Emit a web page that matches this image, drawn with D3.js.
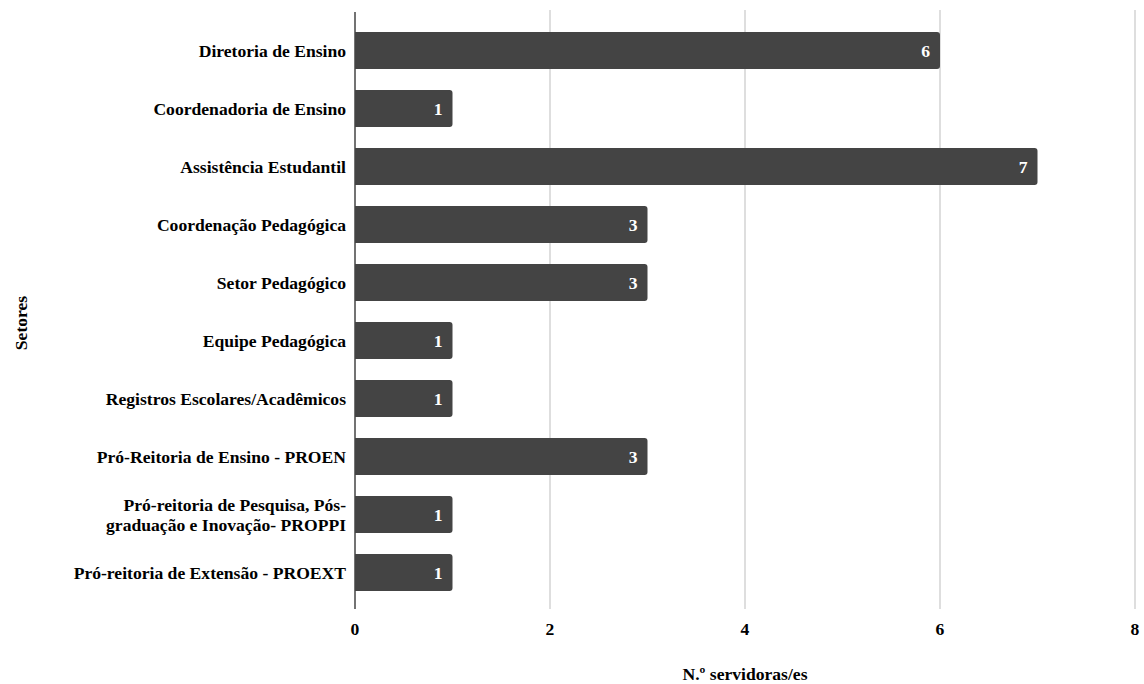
<!DOCTYPE html>
<html>
<head>
<meta charset="utf-8">
<script src="https://cdn.jsdelivr.net/npm/d3@7"></script>
<style>
  html, body { margin: 0; padding: 0; background: #fff; }
</style>
</head>
<body>
<svg id="chart" width="1144" height="684"></svg>
<script>
// Sectors (each entry is a list of label lines) and number of staff per sector
const categories = [
  ["Diretoria de Ensino"],
  ["Coordenadoria de Ensino"],
  ["Assistência Estudantil"],
  ["Coordenação Pedagógica"],
  ["Setor Pedagógico"],
  ["Equipe Pedagógica"],
  ["Registros Escolares/Acadêmicos"],
  ["Pró-Reitoria de Ensino - PROEN"],
  ["Pró-reitoria de Pesquisa, Pós-", "graduação e Inovação- PROPPI"],
  ["Pró-reitoria de Extensão - PROEXT"]
];
const values = [6, 1, 7, 3, 3, 1, 1, 3, 1, 1];
const xTicks = [0, 2, 4, 6, 8];
const xTitle = "N.º servidoras/es";
const yTitle = "Setores";

const FONT = "'Liberation Serif'";
const FS = 17.6;

// apply the serif bold face to a text selection
function serif(sel, size) {
  return sel.attr("font-family", FONT).attr("font-weight", "bold").attr("font-size", size);
}

const svg = d3.select("#chart");

const plotLeft = 355, plotRight = 1135, plotTop = 21.5, plotBottom = 601.5;

const x = d3.scaleLinear().domain([0, 8]).range([plotLeft, plotRight]);
const y = d3.scaleBand().domain(d3.range(categories.length)).range([plotTop, plotBottom]).paddingInner(0.36).paddingOuter(0.18);

// vertical gridlines
svg.append("g").selectAll("line").data(xTicks.filter(d => d > 0)).join("line")
  .attr("x1", d => x(d)).attr("x2", d => x(d))
  .attr("y1", 10).attr("y2", 609)
  .attr("stroke", "#cccccc").attr("stroke-width", 1.3);

// bars with rounded right end
const r = 3;
svg.append("g").selectAll("path").data(values).join("path")
  .attr("fill", "#444444")
  .attr("d", (d, i) => {
    const x0 = x(0), x1 = x(d), y0 = y(i), h = y.bandwidth();
    return `M${x0},${y0} H${x1 - r} Q${x1},${y0} ${x1},${y0 + r} V${y0 + h - r} Q${x1},${y0 + h} ${x1 - r},${y0 + h} H${x0} Z`;
  });

// value labels inside bar ends
svg.append("g").selectAll("text").data(values).join("text")
  .call(serif, FS)
  .attr("x", d => x(d) - 10)
  .attr("y", (d, i) => y(i) + y.bandwidth() / 2 + 6)
  .attr("text-anchor", "end")
  .attr("fill", "#ffffff")
  .text(d => d);

// baseline axis
svg.append("line")
  .attr("x1", x(0)).attr("x2", x(0)).attr("y1", 12).attr("y2", 609)
  .attr("stroke", "#444444").attr("stroke-width", 1.5);

// category labels
const catG = svg.append("g").selectAll("text").data(categories).join("text")
  .call(serif, FS)
  .attr("text-anchor", "end")
  .attr("fill", "#000")
  .attr("x", x(0) - 9)
  .attr("y", (d, i) => y(i) + y.bandwidth() / 2);
catG.each(function(lines) {
  const t = d3.select(this);
  const lh = 20;
  const start = -(lines.length - 1) * lh / 2;
  lines.forEach((ln, k) => {
    t.append("tspan").attr("x", x(0) - 9).attr("dy", k === 0 ? (start + 6) + "px" : lh + "px").text(ln);
  });
});

// x tick labels
svg.append("g").selectAll("text").data(xTicks).join("text")
  .call(serif, FS)
  .attr("x", d => x(d)).attr("y", 635)
  .attr("text-anchor", "middle")
  .attr("fill", "#000")
  .text(d => d);

// axis titles
svg.append("text").call(serif, FS)
  .attr("x", x(4)).attr("y", 680).attr("text-anchor", "middle")
  .attr("fill", "#000").text(xTitle);
svg.append("text").call(serif, FS)
  .attr("transform", "translate(27,323) rotate(-90)")
  .attr("text-anchor", "middle").attr("fill", "#000").text(yTitle);
</script>
</body>
</html>
